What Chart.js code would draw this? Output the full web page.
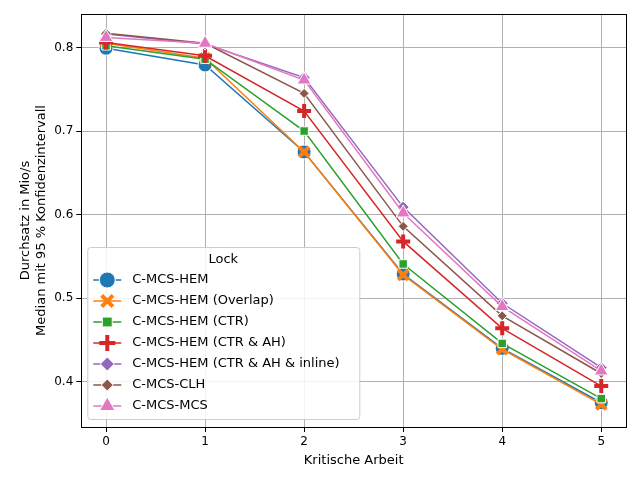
<!DOCTYPE html>
<html><head><script src="https://cdn.jsdelivr.net/npm/chart.js"></script>
<style>body{margin:0}#w{width:640px;height:480px}</style></head>
<body><div id="w"><canvas id="c"></canvas></div>
<script>
const categories=[0,1,2,3,4,5];
const names=["C-MCS-HEM","C-MCS-HEM (Overlap)","C-MCS-HEM (CTR)","C-MCS-HEM (CTR & AH)","C-MCS-HEM (CTR & AH & inline)","C-MCS-CLH","C-MCS-MCS"];
const hem=[0.799,0.779,0.675,0.529,0.440,0.375];
const hemOverlap=[0.805,0.787,0.675,0.528,0.439,0.373];
const hemCtr=[0.802,0.786,0.700,0.541,0.446,0.380];
const hemCtrAh=[0.806,0.790,0.724,0.568,0.464,0.395];
const hemInline=[0.816,0.804,0.764,0.609,0.494,0.417];
const clh=[0.817,0.805,0.745,0.586,0.479,0.410];
const mcs=[0.812,0.805,0.761,0.602,0.490,0.413];
const yTicks=[0.4,0.5,0.6,0.7,0.8];
const series=[hem,hemOverlap,hemCtr,hemCtrAh,hemInline,clh,mcs];
const colors=["#1f77b4","#ff7f0e","#2ca02c","#d62728","#9467bd","#8c564b","#e377c2"];
const styles=["circle","crossRot","rect","cross","rectRot","rectRot","triangle"];
const radii=[7,7,6,7,6,5,8];
const isThick=s=>s==="cross"||s==="crossRot";
const ds=series.map((d,i)=>{
  const thick=isThick(styles[i]);
  return {label:names[i],order:10-i,data:d.map((v,j)=>({x:categories[j],y:v})),borderColor:colors[i],backgroundColor:colors[i],
  borderWidth:1.5,pointStyle:styles[i],pointRadius:radii[i],pointBackgroundColor:colors[i],
  pointBorderColor:thick?colors[i]:"#fff",pointBorderWidth:thick?4:1,tension:0};
});
const legendPlugin={id:"lg",afterDraw(ch){
  const c=ch.ctx,a=ch.chartArea;
  c.save();c.strokeStyle="#000";c.lineWidth=1;c.strokeRect(Math.round(a.left)+0.5,Math.round(a.top)+0.5,Math.round(a.right-a.left),Math.round(a.bottom-a.top));
  const x0=a.left+6,h=172,y0=a.bottom-8-h,w=272;
  c.fillStyle="rgba(255,255,255,0.85)";c.strokeStyle="#ccc";
  c.beginPath();c.roundRect(x0+0.5,y0+0.5,w,h,3);c.fill();c.stroke();
  c.fillStyle="#000";c.font="13px 'DejaVu Sans'";c.textAlign="center";c.textBaseline="middle";
  c.fillText("Lock",x0+w/2,y0+13);c.textAlign="left";
  names.forEach((n,i)=>{const y=y0+33+i*21;
    c.strokeStyle=colors[i];c.lineWidth=1.5;c.beginPath();c.moveTo(x0+6,y);c.lineTo(x0+34,y);c.stroke();
    const thick=isThick(styles[i]);
    c.fillStyle=colors[i];c.strokeStyle=thick?colors[i]:"#fff";c.lineWidth=thick?4:1;
    Chart.helpers.drawPoint(c,{pointStyle:styles[i],radius:radii[i]+1,borderWidth:thick?4:1},x0+20,y);
    c.fillStyle="#000";c.fillText(n,x0+45,y);});
  c.restore();}};
new Chart(document.getElementById("c"),{type:"line",data:{datasets:ds},plugins:[legendPlugin],
options:{responsive:true,maintainAspectRatio:false,animation:false,
layout:{padding:{left:16,right:14,top:14,bottom:8}},
plugins:{legend:{display:false},tooltip:{enabled:false}},
scales:{x:{type:"linear",min:-0.25,max:5.25,afterBuildTicks:s=>{s.ticks=categories.map(v=>({value:v}))},
  grid:{color:"#b0b0b0",tickColor:"#000",tickLength:5},border:{color:"#000"},
  ticks:{color:"#000",font:{size:12,family:"DejaVu Sans"}},
  title:{display:true,text:"Kritische Arbeit",color:"#000",font:{size:13,family:"DejaVu Sans"},padding:{top:0}}},
 y:{min:0.346,max:0.84,afterBuildTicks:s=>{s.ticks=yTicks.map(v=>({value:v}))},
  grid:{color:"#b0b0b0",tickColor:"#000",tickLength:5},border:{color:"#000"},
  ticks:{color:"#000",font:{size:12,family:"DejaVu Sans"},callback:v=>v.toFixed(1)},
  title:{display:true,text:["Durchsatz in Mio/s","Median mit 95 % Konfidenzintervall"],color:"#000",font:{size:13,family:"DejaVu Sans"},padding:2}}}}});
</script></body></html>
